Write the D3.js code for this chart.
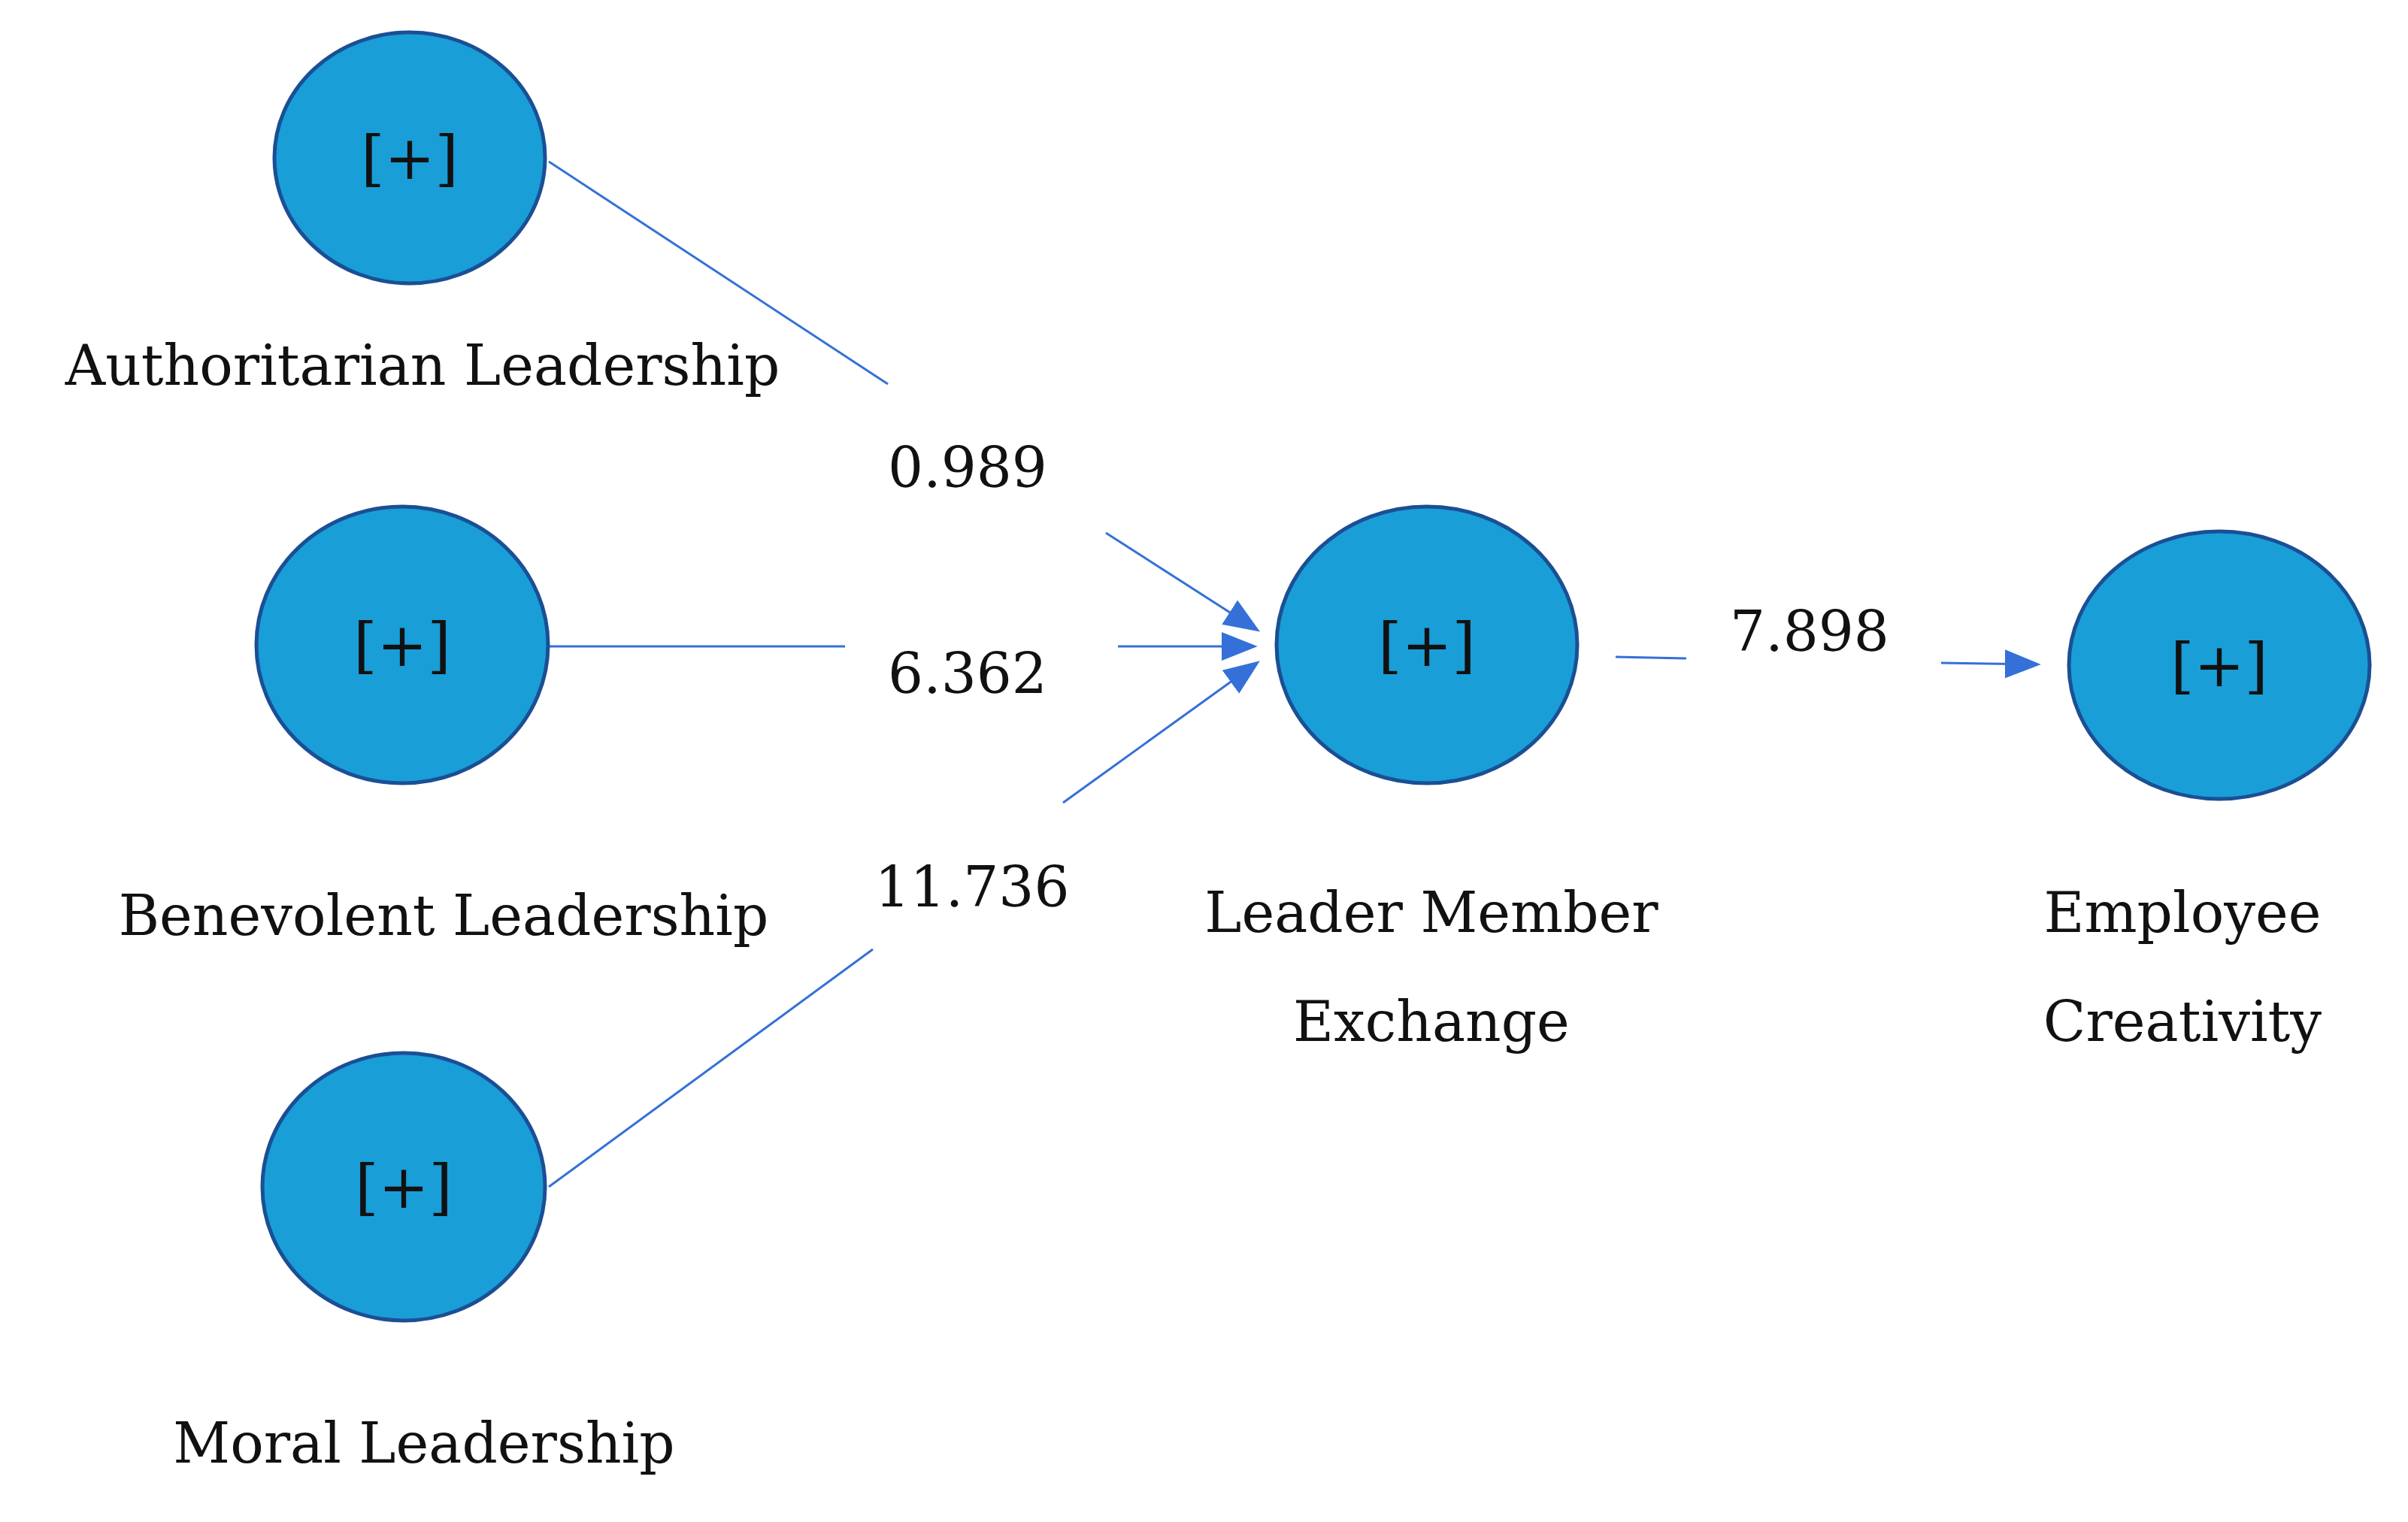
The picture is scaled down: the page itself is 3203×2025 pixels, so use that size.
<!DOCTYPE html>
<html><head><meta charset="utf-8">
<script src="https://cdn.jsdelivr.net/npm/d3@7"></script>
<style>body{margin:0;background:#fff}</style></head>
<body><svg id="c" width="3203" height="2025"></svg>
<script>
const nodeNames = ["Authoritarian Leadership","Benevolent Leadership","Moral Leadership","Leader Member Exchange","Employee Creativity"];
const pathFrom = [0,1,2,3];
const pathTo = [3,3,3,4];
const pathValues = ["0.989","6.362","11.736","7.898"];

// layout (pixels)
const layout = [
 {cx:545,cy:210,rx:180,ry:167,label:["Authoritarian Leadership"],lx:562,ly:[512]},
 {cx:535,cy:858,rx:194,ry:184,label:["Benevolent Leadership"],lx:590,ly:[1244]},
 {cx:537,cy:1579,rx:188,ry:178,label:["Moral Leadership"],lx:564,ly:[1946]},
 {cx:1898,cy:858,rx:200,ry:184,label:["Leader Member","Exchange"],lx:1904,ly:[1240,1385]},
 {cx:2952,cy:885,rx:200,ry:178,label:["Employee","Creativity"],lx:2903,ly:[1240,1385]}
];
// line segments [x1,y1,x2,y2] pairs per path, label pos
const segs = [
 {a:[730,215,1181,511],b:[1471,709,1672,838],t:[1287,648]},
 {a:[730,860,1124,860],b:[1487,860,1668,860],t:[1287,922]},
 {a:[730,1579,1161,1263],b:[1414,1068,1672,882],t:[1293,1206]},
 {a:[2149,874,2243,876],b:[2582,882,2710,884],t:[2407,866]}
];
const svg = d3.select("#c");
const lineCol = "#3470d8";
svg.append("defs").append("marker").attr("id","ar").attr("viewBox","0 0 10 10")
 .attr("refX",9).attr("refY",5).attr("markerWidth",14).attr("markerHeight",14)
 .attr("markerUnits","userSpaceOnUse").attr("orient","auto")
 .append("path").attr("d","M0,0L10,5L0,10Z").attr("fill",lineCol);
svg.select("defs").append("marker").attr("id","ar2").attr("viewBox","0 0 10 10")
 .attr("refX",9).attr("refY",5).attr("markerWidth",48).attr("markerHeight",48)
 .attr("markerUnits","userSpaceOnUse").attr("orient","auto")
 .append("path").attr("d","M0,1L10,5L0,9Z").attr("fill",lineCol);

pathFrom.forEach((f,i)=>{
  const s=segs[i];
  svg.append("line").attr("x1",s.a[0]).attr("y1",s.a[1]).attr("x2",s.a[2]).attr("y2",s.a[3])
   .attr("stroke",lineCol).attr("stroke-width",3);
  svg.append("line").attr("x1",s.b[0]).attr("y1",s.b[1]).attr("x2",s.b[2]).attr("y2",s.b[3])
   .attr("stroke",lineCol).attr("stroke-width",3).attr("marker-end","url(#ar2)");
  svg.append("text").attr("x",s.t[0]).attr("y",s.t[1]).attr("text-anchor","middle")
   .attr("font-family","DejaVu Serif").attr("font-size",74).attr("fill","#111").text(pathValues[i]);
});

nodeNames.forEach((n,i)=>{
  const L=layout[i];
  svg.append("ellipse").attr("cx",L.cx).attr("cy",L.cy).attr("rx",L.rx).attr("ry",L.ry)
   .attr("fill","#199ed8").attr("stroke","#1b4f94").attr("stroke-width",5);
  svg.append("text").attr("x",L.cx).attr("y",L.cy+28).attr("text-anchor","middle")
   .attr("font-family","DejaVu Serif").attr("font-size",80).attr("fill","#111").text("[+]");
  L.label.forEach((t,j)=>svg.append("text").attr("x",L.lx).attr("y",L.ly[j]).attr("text-anchor","middle")
   .attr("font-family","DejaVu Serif").attr("font-size",74).attr("fill","#111").text(t));
});
</script></body></html>
